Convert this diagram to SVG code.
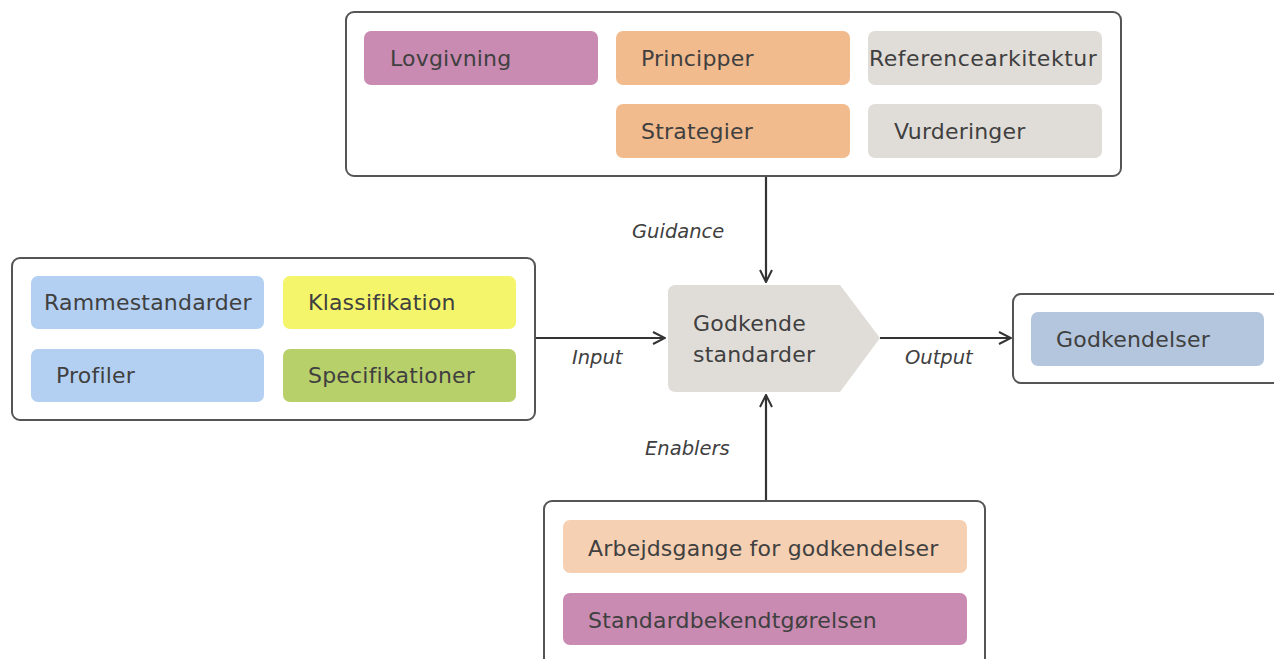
<svg xmlns="http://www.w3.org/2000/svg" width="1274" height="659" viewBox="0 0 1274 659">
<defs>
<style>
.frame{fill:#fff;stroke:#555;stroke-width:2}
.t{font-family:"DejaVu Sans","Liberation Sans",sans-serif;font-size:22px;letter-spacing:0.2px;fill:#404040}
.lbl{font-family:"DejaVu Sans","Liberation Sans",sans-serif;font-size:19.5px;font-style:italic;fill:#404040}
.con{stroke:#333;stroke-width:2.2;fill:none}
.purple{fill:#c98bb2}.orange{fill:#f2bb8d}.grey{fill:#e0ddd9}.blue{fill:#b3d0f2}.yellow{fill:#f5f56b}.green{fill:#b8d06a}.steel{fill:#b3c6dd}.peach{fill:#f5d0b3}
</style>
<marker id="arr" viewBox="0 0 14 14" refX="13" refY="7" markerWidth="14" markerHeight="14" markerUnits="userSpaceOnUse" orient="auto">
<path d="M1,1 L13,7 L1,13" fill="none" stroke="#333" stroke-width="2"/>
</marker>
</defs>
<rect width="1274" height="659" fill="#fff"/>

<g id="guidance-group">
<rect class="frame" x="346" y="12" width="775" height="164" rx="8"/>
<g id="lovgivning"><rect class="purple" x="364" y="31" width="234" height="54" rx="7"/><text class="t" x="390" y="66">Lovgivning</text></g>
<g id="principper"><rect class="orange" x="616" y="31" width="234" height="54" rx="7"/><text class="t" x="641" y="66">Principper</text></g>
<g id="referencearkitektur"><rect class="grey" x="868" y="31" width="234" height="54" rx="7"/><text class="t" x="869" y="66" textLength="228">Referencearkitektur</text></g>
<g id="strategier"><rect class="orange" x="616" y="104" width="234" height="54" rx="7"/><text class="t" x="641" y="139">Strategier</text></g>
<g id="vurderinger"><rect class="grey" x="868" y="104" width="234" height="54" rx="7"/><text class="t" x="894" y="139">Vurderinger</text></g>
</g>

<g id="input-group">
<rect class="frame" x="12" y="258" width="523" height="162" rx="8"/>
<g id="rammestandarder"><rect class="blue" x="31" y="276" width="233" height="53" rx="7"/><text class="t" x="44" y="310">Rammestandarder</text></g>
<g id="klassifikation"><rect class="yellow" x="283" y="276" width="233" height="53" rx="7"/><text class="t" x="308" y="310">Klassifikation</text></g>
<g id="profiler"><rect class="blue" x="31" y="349" width="233" height="53" rx="7"/><text class="t" x="56" y="383">Profiler</text></g>
<g id="specifikationer"><rect class="green" x="283" y="349" width="233" height="53" rx="7"/><text class="t" x="308" y="383">Specifikationer</text></g>
</g>

<g id="godkende-standarder">
<path class="grey" d="M676,285 L840,285 L880,338 L840,392 L676,392 Q668,392 668,384 L668,293 Q668,285 676,285 Z"/>
<text class="t" x="693" y="331">Godkende</text>
<text class="t" x="693" y="362">standarder</text>
</g>

<g id="output-group">
<rect class="frame" x="1013" y="294" width="280" height="89" rx="8"/>
<g id="godkendelser"><rect class="steel" x="1031" y="312" width="233" height="54" rx="7"/><text class="t" x="1056" y="347">Godkendelser</text></g>
</g>

<g id="enablers-group">
<rect class="frame" x="544" y="501" width="441" height="180" rx="8"/>
<g id="arbejdsgange"><rect class="peach" x="563" y="520" width="404" height="53" rx="7"/><text class="t" x="588" y="556">Arbejdsgange for godkendelser</text></g>
<g id="standardbekendtgorelsen"><rect class="purple" x="563" y="593" width="404" height="52" rx="7"/><text class="t" x="588" y="628">Standardbekendtgørelsen</text></g>
</g>

<g id="connectors">
<line class="con" x1="766" y1="177" x2="766" y2="282" marker-end="url(#arr)"/>
<line class="con" x1="536" y1="338" x2="665" y2="338" marker-end="url(#arr)"/>
<line class="con" x1="880" y1="338" x2="1011" y2="338" marker-end="url(#arr)"/>
<line class="con" x1="766" y1="500" x2="766" y2="395" marker-end="url(#arr)"/>
<text class="lbl" x="632" y="238">Guidance</text>
<text class="lbl" x="572" y="364">Input</text>
<text class="lbl" x="905" y="364">Output</text>
<text class="lbl" x="645" y="455">Enablers</text>
</g>
</svg>
